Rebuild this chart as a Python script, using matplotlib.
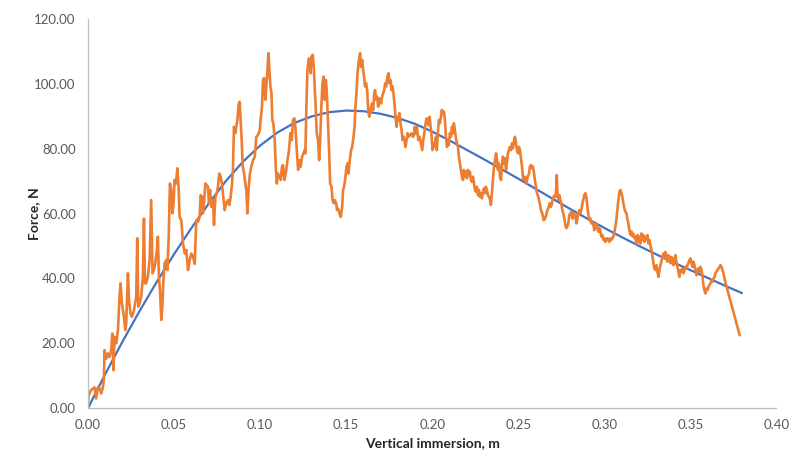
import matplotlib
matplotlib.use("Agg")
import matplotlib.pyplot as plt
from matplotlib.ticker import FormatStrFormatter, MultipleLocator

force_x = [
    0.0000, 0.0003, 0.0018, 0.0038, 0.0047, 0.0057, 0.0067, 0.0077, 0.0086, 0.0092,
    0.0096, 0.0106, 0.0115, 0.0125, 0.0135, 0.0141, 0.0148, 0.0154, 0.0164, 0.0174,
    0.0183, 0.0189, 0.0197, 0.0209, 0.0216, 0.0222, 0.0232, 0.0238, 0.0247, 0.0255,
    0.0267, 0.0280, 0.0286, 0.0292, 0.0300, 0.0309, 0.0319, 0.0325, 0.0331, 0.0338,
    0.0348, 0.0358, 0.0367, 0.0375, 0.0383, 0.0391, 0.0400, 0.0406, 0.0412, 0.0418,
    0.0426, 0.0432, 0.0437, 0.0445, 0.0455, 0.0461, 0.0469, 0.0476, 0.0484, 0.0490,
    0.0497, 0.0503, 0.0511, 0.0519, 0.0527, 0.0532, 0.0542, 0.0552, 0.0562, 0.0571,
    0.0581, 0.0591, 0.0600, 0.0610, 0.0620,
    0.0629, 0.0639, 0.0649, 0.0654, 0.0662, 0.0668, 0.0674, 0.0682, 0.0689, 0.0697,
    0.0703, 0.0709, 0.0717, 0.0726, 0.0732, 0.0740, 0.0748, 0.0755, 0.0763, 0.0771,
    0.0778, 0.0786, 0.0794, 0.0804, 0.0813, 0.0821, 0.0829, 0.0837, 0.0842, 0.0848,
    0.0856, 0.0862, 0.0868, 0.0876, 0.0881, 0.0887, 0.0893, 0.0899, 0.0907, 0.0914,
    0.0920, 0.0926, 0.0934, 0.0941, 0.0949, 0.0959, 0.0969, 0.0978, 0.0988, 0.0998,
    0.1003, 0.1011, 0.1017, 0.1023, 0.1031, 0.1036, 0.1042, 0.1048, 0.1054, 0.1060,
    0.1066, 0.1071, 0.1077, 0.1085, 0.1091, 0.1097, 0.1104, 0.1112, 0.1120, 0.1127,
    0.1133, 0.1141, 0.1149, 0.1159, 0.1168, 0.1176, 0.1184, 0.1191, 0.1199, 0.1205,
    0.1213, 0.1221, 0.1229, 0.1236, 0.1244, 0.1252, 0.1259,
    0.1263, 0.1269, 0.1275, 0.1283, 0.1289, 0.1294, 0.1298, 0.1306, 0.1312, 0.1318,
    0.1323, 0.1329, 0.1337, 0.1343, 0.1349, 0.1356, 0.1362, 0.1370, 0.1376, 0.1382,
    0.1387, 0.1395, 0.1401, 0.1407, 0.1415, 0.1421, 0.1428, 0.1434, 0.1442, 0.1447,
    0.1453, 0.1461, 0.1469, 0.1477, 0.1482, 0.1488, 0.1494, 0.1502, 0.1508, 0.1514,
    0.1521, 0.1529, 0.1535, 0.1543, 0.1549, 0.1554, 0.1560, 0.1566, 0.1574, 0.1581,
    0.1587, 0.1593, 0.1599, 0.1604, 0.1610, 0.1616, 0.1622, 0.1628, 0.1634, 0.1639,
    0.1645, 0.1651, 0.1657, 0.1663, 0.1668, 0.1674, 0.1680, 0.1686, 0.1692, 0.1697,
    0.1703, 0.1709, 0.1715, 0.1721, 0.1727, 0.1732, 0.1740, 0.1746, 0.1752, 0.1758,
    0.1764, 0.1770, 0.1775, 0.1781, 0.1787, 0.1793, 0.1799, 0.1805, 0.1810, 0.1816,
    0.1822, 0.1828, 0.1834, 0.1839, 0.1845, 0.1851, 0.1857, 0.1864, 0.1872, 0.1880,
    0.1888, 0.1895,
    0.1899, 0.1905, 0.1911, 0.1919, 0.1927, 0.1934, 0.1942, 0.1948, 0.1954, 0.1962,
    0.1967, 0.1973, 0.1979, 0.1985, 0.1991, 0.1997, 0.2002, 0.2008, 0.2016, 0.2022,
    0.2027, 0.2033, 0.2039, 0.2045, 0.2051, 0.2056, 0.2062, 0.2068, 0.2074, 0.2080,
    0.2086, 0.2091, 0.2097, 0.2103, 0.2109, 0.2115, 0.2120, 0.2126, 0.2132, 0.2138,
    0.2144, 0.2150, 0.2155, 0.2161, 0.2167, 0.2173, 0.2179, 0.2184, 0.2190, 0.2196,
    0.2202, 0.2208, 0.2213, 0.2219, 0.2225, 0.2231, 0.2237, 0.2243, 0.2248, 0.2254,
    0.2260, 0.2266, 0.2272, 0.2277, 0.2283, 0.2289, 0.2295, 0.2301, 0.2307, 0.2312,
    0.2318, 0.2324, 0.2330, 0.2336, 0.2341, 0.2347, 0.2353, 0.2359, 0.2365, 0.2371,
    0.2376, 0.2382, 0.2388, 0.2394, 0.2400, 0.2405, 0.2411, 0.2417, 0.2423, 0.2429,
    0.2435, 0.2440, 0.2446, 0.2452, 0.2458, 0.2464, 0.2469, 0.2475, 0.2481, 0.2487,
    0.2493, 0.2499, 0.2504, 0.2510, 0.2516, 0.2522, 0.2528, 0.2533, 0.2539,
    0.2547, 0.2555, 0.2563, 0.2568, 0.2574, 0.2580, 0.2586, 0.2592, 0.2597, 0.2603,
    0.2609, 0.2617, 0.2625, 0.2632, 0.2640, 0.2648, 0.2656, 0.2663, 0.2669, 0.2675,
    0.2683, 0.2689, 0.2695, 0.2700, 0.2706, 0.2712, 0.2718, 0.2724, 0.2727, 0.2733,
    0.2739, 0.2745, 0.2750, 0.2756, 0.2762, 0.2768, 0.2774, 0.2780, 0.2785, 0.2791,
    0.2797, 0.2803, 0.2809, 0.2815, 0.2820, 0.2826, 0.2832, 0.2838, 0.2844, 0.2849,
    0.2855, 0.2861, 0.2867, 0.2873, 0.2878, 0.2884, 0.2890, 0.2896, 0.2902, 0.2908,
    0.2913, 0.2919, 0.2925, 0.2931, 0.2937, 0.2942, 0.2948, 0.2954, 0.2960, 0.2966,
    0.2972, 0.2977, 0.2983, 0.2989, 0.2995, 0.3001, 0.3006, 0.3012, 0.3018, 0.3024,
    0.3030, 0.3035, 0.3041, 0.3047, 0.3053, 0.3059, 0.3065, 0.3070, 0.3076, 0.3082,
    0.3088, 0.3094, 0.3099, 0.3105, 0.3111, 0.3117, 0.3123, 0.3129, 0.3134, 0.3140,
    0.3146, 0.3152, 0.3158, 0.3163, 0.3169, 0.3175, 0.3179,
    0.3187, 0.3193, 0.3198, 0.3204, 0.3210, 0.3216, 0.3222, 0.3227, 0.3233, 0.3239,
    0.3245, 0.3251, 0.3257, 0.3262, 0.3268, 0.3274, 0.3280, 0.3286, 0.3291, 0.3297,
    0.3303, 0.3309, 0.3315, 0.3321, 0.3326, 0.3332, 0.3338, 0.3344, 0.3350, 0.3355,
    0.3361, 0.3367, 0.3373, 0.3379, 0.3385, 0.3390, 0.3396, 0.3402, 0.3408, 0.3414,
    0.3419, 0.3425, 0.3431, 0.3437, 0.3443, 0.3448, 0.3454, 0.3460, 0.3466, 0.3472,
    0.3478, 0.3483, 0.3489, 0.3495, 0.3501, 0.3507, 0.3513, 0.3518, 0.3524, 0.3530,
    0.3536, 0.3542, 0.3547, 0.3553, 0.3559, 0.3565, 0.3571, 0.3576, 0.3582, 0.3588,
    0.3594, 0.3600, 0.3606, 0.3611, 0.3617, 0.3623, 0.3629, 0.3635, 0.3641, 0.3646,
    0.3652, 0.3658, 0.3664, 0.3670, 0.3675, 0.3681, 0.3687, 0.3693, 0.3703, 0.3787,
]
force_y = [
    1.0, 4.0, 5.6, 6.4, 3.0, 6.4, 6.1, 4.5, 6.4, 8.6,
    17.9, 15.3, 16.9, 15.8, 17.9, 23.0, 11.7, 22.0, 20.0, 24.1,
    34.4, 38.5, 32.3, 28.2, 24.1, 26.1, 41.6, 33.3, 29.2, 28.2,
    30.2, 34.4, 52.4, 31.3, 32.3, 34.4, 40.5, 58.5, 38.5, 38.5,
    40.5, 45.7, 64.2, 41.6, 42.6, 44.7, 48.8, 52.9, 40.5, 36.4,
    27.2, 31.3, 38.5, 44.7, 45.7, 42.6, 52.9, 69.3, 67.3, 60.1,
    63.2, 70.4, 69.3, 74.0, 67.3, 59.0, 58.0, 50.8, 47.7, 48.8,
    42.6, 45.7, 47.7, 46.7, 44.5,
    58.0, 57.5, 59.0, 65.7, 65.2, 60.1, 63.2, 69.3, 68.8, 68.3,
    63.2, 67.3, 62.1, 64.2, 56.5, 65.2, 66.3, 68.3, 72.4, 71.4,
    69.3, 65.2, 61.1, 63.2, 64.2, 62.7, 65.2, 69.3, 73.5, 86.8,
    84.8, 86.8, 88.9, 94.0, 94.5, 88.9, 82.7, 74.5, 72.4, 69.3,
    67.3, 60.1, 68.3, 72.4, 74.5, 76.5, 77.6, 83.7, 84.3, 85.8,
    88.9, 93.0, 101.2, 101.8, 95.1, 99.2, 103.3, 109.5, 104.3, 99.2,
    97.1, 88.9, 87.9, 82.7, 74.5, 69.3, 72.4, 71.4, 70.4, 74.5,
    75.0, 70.4, 72.4, 76.5, 79.6, 84.8, 82.7, 88.9, 89.4, 86.8,
    79.6, 73.5, 76.5, 74.5, 77.6, 78.6, 79.6,
    78.6, 93.0, 104.3, 107.9, 107.4, 103.3, 108.4, 109.0, 105.3, 98.1,
    93.0, 84.8, 82.7, 76.5, 82.7, 93.0, 100.2, 102.3, 95.1, 101.2,
    98.1, 87.9, 79.6, 69.3, 68.3, 64.2, 63.2, 64.2, 63.2, 61.1,
    61.6, 60.1, 59.0, 62.1, 67.3, 68.3, 70.4, 74.5, 75.5, 72.4,
    76.5, 79.6, 80.6, 83.7, 86.8, 93.0, 97.1, 103.3, 107.4, 109.5,
    105.3, 107.4, 104.3, 102.3, 99.2, 100.2, 98.1, 92.0, 89.9, 91.0,
    93.0, 94.0, 92.0, 97.1, 98.1, 95.1, 96.1, 93.0, 95.6, 95.1,
    94.0, 96.1, 97.1, 98.1, 100.2, 99.2, 102.3, 103.3, 100.2, 101.2,
    98.1, 99.2, 97.1, 94.0, 89.9, 86.8, 89.9, 88.9, 91.0, 87.9,
    85.8, 82.7, 83.7, 82.7, 80.6, 82.7, 84.8, 83.7, 84.3, 84.8,
    83.7, 84.3,
    86.8, 84.8, 86.8, 82.7, 83.7, 81.7, 79.6, 82.7, 84.8, 87.9,
    89.4, 88.9, 87.3, 89.9, 86.8, 83.7, 79.6, 81.7, 80.6, 83.7,
    79.6, 84.8, 88.9, 87.9, 89.9, 92.0, 91.0, 91.5, 88.9, 83.7,
    80.6, 82.7, 81.2, 84.8, 83.7, 86.8, 84.8, 87.9, 85.8, 83.2,
    81.7, 80.6, 77.6, 75.5, 73.5, 71.4, 70.4, 73.5, 71.4, 72.9,
    70.9, 73.5, 71.9, 72.9, 70.4, 69.8, 71.4, 69.3, 67.3, 66.8,
    68.3, 65.7, 67.3, 65.2, 66.3, 64.7, 66.8, 67.8, 66.3, 68.3,
    67.3, 65.7, 65.2, 64.2, 62.7, 66.3, 70.4, 74.5, 76.5, 78.6,
    77.1, 73.5, 75.5, 71.4, 70.4, 74.5, 77.6, 75.5, 77.1, 73.5,
    76.0, 78.6, 79.6, 80.6, 79.6, 81.7, 80.2, 82.2, 83.7, 81.7,
    79.6, 78.6, 80.6, 79.6, 77.1, 74.5, 70.9, 70.4, 71.4,
    69.3, 71.4, 72.4, 74.5, 75.0, 74.0, 74.5, 72.4, 70.4, 68.3,
    66.3, 65.2, 63.2, 61.1, 60.1, 58.0, 58.5, 59.6, 61.1, 61.6,
    63.2, 62.1, 62.7, 64.7, 65.2, 65.7, 65.2, 71.9, 67.3, 64.2,
    65.7, 64.2, 63.2, 61.1, 60.1, 58.5, 56.5, 55.5, 56.0, 57.0,
    59.6, 60.1, 60.6, 58.5, 60.1, 59.0, 59.6, 57.0, 58.5, 60.1,
    61.1, 60.1, 61.1, 63.2, 64.2, 65.7, 66.3, 65.2, 62.1, 59.6,
    58.0, 58.5, 57.0, 57.5, 56.5, 54.9, 56.0, 57.0, 55.5, 54.4,
    55.5, 54.9, 52.9, 53.4, 51.9, 52.4, 51.3, 51.9, 52.4, 51.9,
    51.3, 52.4, 51.9, 52.4, 52.9, 54.4, 56.0, 58.0, 61.1, 64.2,
    66.8, 67.3, 66.3, 65.2, 63.2, 61.6, 60.6, 60.1, 58.5, 57.0,
    54.9, 53.5, 54.5, 53.0, 53.8, 52.5, 53.0,
    50.8, 53.4, 51.3, 52.9, 50.8, 53.9, 51.9, 53.4, 51.3, 52.9,
    51.9, 53.4, 50.8, 51.9, 50.3, 48.8, 46.7, 44.7, 43.1, 42.6,
    44.1, 42.1, 40.5, 42.6, 44.1, 45.2, 46.7, 47.7, 46.2, 48.2,
    46.7, 45.2, 47.2, 45.7, 44.7, 46.7, 45.2, 44.1, 46.2, 47.2,
    45.2, 43.6, 42.1, 40.5, 42.6, 42.1, 43.1, 41.6, 42.6, 43.6,
    43.1, 44.1, 44.7, 45.7, 46.2, 44.7, 43.6, 45.2, 44.1, 42.6,
    41.0, 42.6, 43.1, 42.1, 43.6, 42.6, 40.5, 38.0, 36.4, 35.4,
    36.9, 36.4, 37.4, 38.0, 38.5, 39.5, 39.0, 40.0, 40.5, 41.6,
    42.1, 42.6, 43.1, 43.6, 44.1, 43.6, 42.6, 41.5, 39.0, 22.5,
]

# smooth model curve
trend_x = [0.00, 0.01, 0.02, 0.03, 0.04, 0.05, 0.06, 0.07, 0.08, 0.09,
           0.10, 0.11, 0.12, 0.13, 0.14, 0.15, 0.16, 0.17, 0.18, 0.19,
           0.20, 0.21, 0.22, 0.23, 0.24, 0.25, 0.26, 0.27, 0.28, 0.29,
           0.30, 0.31, 0.32, 0.33, 0.34, 0.35, 0.36, 0.37, 0.38]
trend_y = [0.0, 10.5, 20.5, 30.0, 39.0, 47.5, 55.5, 63.0, 70.0, 76.0,
           81.0, 85.0, 88.0, 90.0, 91.3, 91.8, 91.6, 90.8, 89.5, 87.7,
           85.3, 82.6, 79.7, 76.8, 73.8, 70.8, 67.7, 64.6, 61.5, 58.5,
           55.6, 52.8, 50.1, 47.5, 45.0, 42.6, 40.2, 37.8, 35.5]

plt.rcParams['font.family'] = ['Lato', 'DejaVu Sans']

fig = plt.figure(figsize=(7.93, 4.67), dpi=100)
ax = fig.add_axes([0.111, 0.126, 0.868, 0.833])

ax.plot(trend_x, trend_y, color='#4472C4', lw=1.6, solid_capstyle='round')
ax.plot(force_x, force_y, color='#ED7D31', lw=1.9,
        solid_joinstyle='round', solid_capstyle='round')

ax.set_xlim(0, 0.40)
ax.set_ylim(0, 120)
ax.xaxis.set_major_locator(MultipleLocator(0.05))
ax.yaxis.set_major_locator(MultipleLocator(20))
ax.xaxis.set_major_formatter(FormatStrFormatter('%.2f'))
ax.yaxis.set_major_formatter(FormatStrFormatter('%.2f'))
ax.tick_params(length=0, labelsize=9.5, colors='#595959')
ax.tick_params(axis='y', pad=9)
ax.tick_params(axis='x', pad=8)

for s in ['top', 'right']:
    ax.spines[s].set_visible(False)
for s in ['left', 'bottom']:
    ax.spines[s].set_color('#BFBFBF')
    ax.spines[s].set_linewidth(0.9)

ax.set_xlabel('Vertical immersion, m', fontsize=10, fontweight='bold',
              color='#262626', labelpad=4)
ax.set_ylabel('Force, N', fontsize=10, fontweight='bold',
              color='#262626', labelpad=-4)

fig.savefig('out.png', dpi=100)
